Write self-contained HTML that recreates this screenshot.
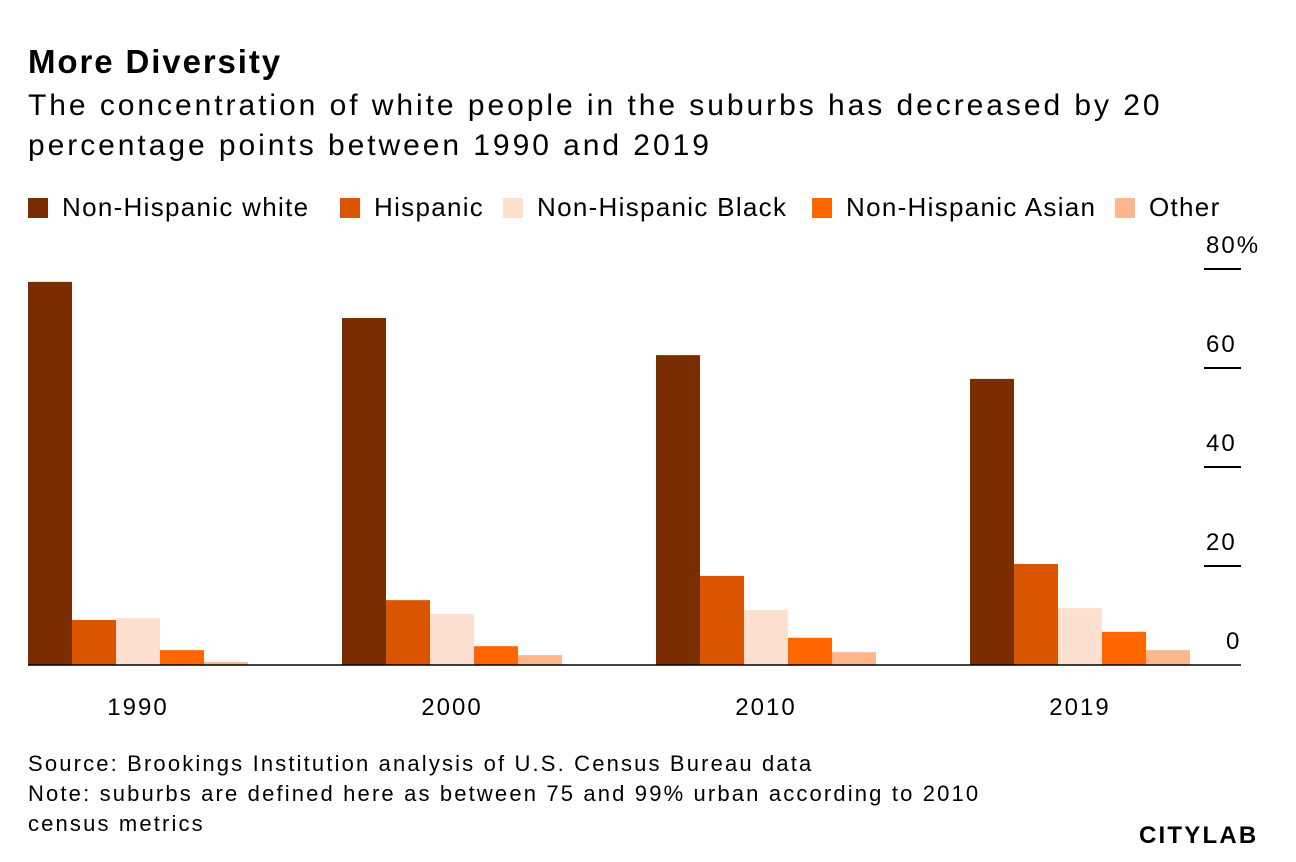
<!DOCTYPE html>
<html><head><meta charset="utf-8"><style>
body{margin:0;background:#fff;font-family:"Liberation Sans",sans-serif;color:#000}
#wrap{position:relative;width:1296px;height:862px;overflow:hidden}
.t{position:absolute;white-space:nowrap}
</style></head><body>
<div id="wrap">
<div class="t" style="left:28px;top:43px;font-size:33px;font-weight:bold;letter-spacing:1.9px">More Diversity</div>
<div class="t" style="left:28px;top:86px;font-size:30px;line-height:40px;letter-spacing:2.95px">The concentration of white people in the suburbs has decreased by 20<br>percentage points between 1990 and 2019</div>
<svg id="svg" width="1296" height="862" style="position:absolute;left:0;top:0"></svg>
<div class="t" style="left:28px;top:749px;font-size:22px;line-height:30px;letter-spacing:2.15px">Source: Brookings Institution analysis of U.S. Census Bureau data<br>Note: suburbs are defined here as between 75 and 99% urban according to 2010<br>census metrics</div>
<div class="t" style="left:1139px;top:822px;font-size:24px;font-weight:900;letter-spacing:2.2px">CITYLAB</div>
</div>
<script>
const categories=["1990","2000","2010","2019"];
const seriesNames=["Non-Hispanic white","Hispanic","Non-Hispanic Black","Non-Hispanic Asian","Other"];
const white=[77.4,70.1,62.6,57.8];
const hispanic=[9.1,13.1,18.0,20.4];
const black=[9.5,10.3,11.1,11.5];
const asian=[3.0,3.8,5.5,6.7];
const other=[0.6,2.0,2.6,3.0];
const ticks=[0,20,40,60,80];
const tickLabels=["0","20","40","60","80%"];
const colors=["#7a2e00","#d95500","#fde0d0","#ff6600","#fdb78f"];
const series=[white,hispanic,black,asian,other];
const NS="http://www.w3.org/2000/svg";
const svg=document.getElementById('svg');
const y0=665,pxPer=4.95,gx0=28,gw=314,bw=44;
const y=v=>y0-v*pxPer;
function mk(t,a){const e=document.createElementNS(NS,t);for(const k in a)e.setAttribute(k,a[k]);svg.appendChild(e);return e;}
const legX=[28,340,503,812,1115];
seriesNames.forEach((n,i)=>{
  const r=mk('rect',{x:legX[i],y:198,width:20,height:20,fill:colors[i]});
  
  
  const t=mk('text',{x:legX[i]+34,y:216,'font-size':26,'letter-spacing':1.3});
  t.textContent=n;
  
  
});
ticks.forEach((v,i)=>{
  if(v>0){const l=mk('line',{x1:1204,x2:1241,y1:y(v),y2:y(v),stroke:'#000','stroke-width':2});
  
  }
  const t=mk('text',{x:v===0?1226:1206,y:y(v)-16,'font-size':24,'letter-spacing':2});
  t.textContent=tickLabels[i];
  
  
});
categories.forEach((c,g)=>{
  series.forEach((s,i)=>{
    const r=mk('rect',{x:gx0+g*gw+i*bw,y:y(s[g]),width:bw,height:s[g]*pxPer,fill:colors[i]});
    
    
  });
  const t=mk('text',{x:gx0+g*gw+bw*2.5,y:715,'font-size':24,'text-anchor':'middle','letter-spacing':2});
  t.textContent=c;
  
  
});
const base=mk('line',{x1:28,x2:1241,y1:y0,y2:y0,stroke:'#000','stroke-width':1.5});


</script>
</body></html>
